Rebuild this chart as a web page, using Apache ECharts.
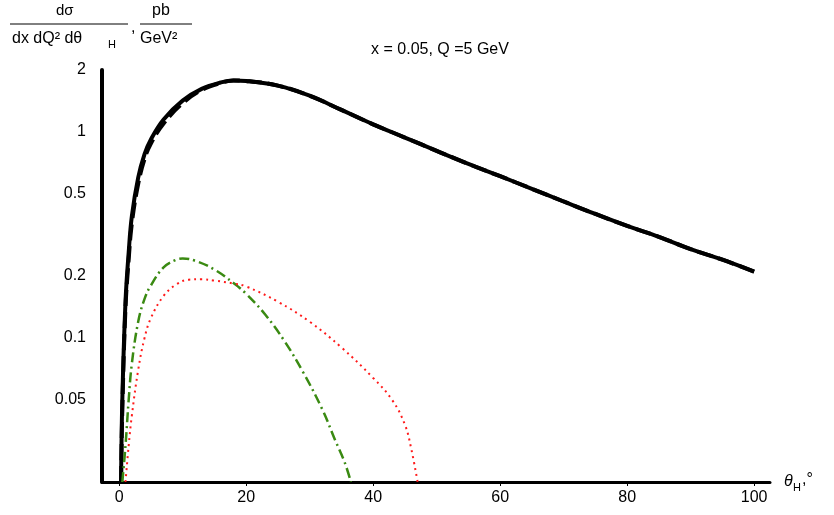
<!DOCTYPE html>
<html><head><meta charset="utf-8">
<script src="https://cdn.jsdelivr.net/npm/echarts@6/dist/echarts.min.js"></script>
<style>html,body{margin:0;background:#fff}#c{width:834px;height:515px}</style>
</head><body><div id="c"></div>
<script>
const yTicks = [0.05, 0.1, 0.2, 0.5, 1, 2];
const xTicks = [0, 20, 40, 60, 80, 100];

const totalTheta = [0.3, 0.5, 1, 1.5, 2, 3, 4, 5, 7, 10, 13, 16, 18, 20, 25, 30, 35, 40, 45, 50, 55, 60, 65, 70, 75, 80, 85, 90, 95, 100];
const totalSolid = [0.02, 0.05, 0.15, 0.26, 0.39, 0.6, 0.78, 0.92, 1.15, 1.42, 1.62, 1.74, 1.78, 1.77, 1.68, 1.5, 1.28, 1.09, 0.94, 0.81, 0.7, 0.61, 0.53, 0.46, 0.4, 0.35, 0.31, 0.27, 0.24, 0.21];
const totalDashed = [0.02, 0.045, 0.14, 0.24, 0.36, 0.56, 0.74, 0.88, 1.1, 1.38, 1.6, 1.73, 1.78, 1.77, 1.68, 1.5, 1.28, 1.09, 0.94, 0.81, 0.7, 0.61, 0.53, 0.46, 0.4, 0.35, 0.31, 0.27, 0.24, 0.21];

const greenTheta = [0.5, 1, 1.5, 2, 3, 4, 5, 7, 9, 10, 12, 15, 18, 20, 23, 26, 29, 32, 34, 35.5, 36.5];
const greenVals = [0.02, 0.03, 0.05, 0.075, 0.12, 0.155, 0.18, 0.22, 0.24, 0.243, 0.237, 0.215, 0.185, 0.164, 0.13, 0.097, 0.068, 0.045, 0.032, 0.025, 0.02];

const redTheta = [1, 1.5, 2, 3, 4, 5, 7, 9, 11, 13, 15, 18, 20, 25, 30, 35, 40, 43, 45, 46, 47];
const redVals = [0.02, 0.03, 0.042, 0.07, 0.1, 0.125, 0.16, 0.182, 0.192, 0.193, 0.19, 0.184, 0.178, 0.15, 0.12, 0.09, 0.064, 0.05, 0.038, 0.029, 0.02];

const zip = (xs, ys) => xs.map((x, i) => [x, ys[i]]);
const chart = echarts.init(document.getElementById('c'));
const font = 'Liberation Sans, Arial, sans-serif';
chart.setOption({
  animation: false,
  grid: {left: 102, right: 64, top: 70, bottom: 33},
  title: {text: 'x = 0.05, Q =5 GeV', left: 435, top: 37, textAlign: 'center',
    textStyle: {fontSize: 16, fontWeight: 'normal', color: '#000', fontFamily: font}},
  xAxis: {type: 'value', min: -2.7, max: 102.5, splitLine: {show: false},
    axisLine: {onZero: false, lineStyle: {color: '#000', width: 3}},
    axisTick: {customValues: xTicks, length: 4, lineStyle: {color: '#000'}},
    axisLabel: {customValues: xTicks, color: '#000', fontSize: 16, fontFamily: font}},
  yAxis: {type: 'log', min: 0.02, max: 2, splitLine: {show: false},
    axisLine: {show: true, onZero: false, lineStyle: {color: '#000', width: 4}},
    axisTick: {show: false},
    axisLabel: {customValues: yTicks, color: '#000', fontSize: 16, fontFamily: font, margin: 16}},
  graphic: [
    {type: 'text', left: 56, top: 3, style: {text: 'dσ', font: '15px ' + font, fill: '#000'}},
    {type: 'line', shape: {x1: 10, y1: 24, x2: 128, y2: 24}, style: {stroke: '#000', lineWidth: 1}},
    {type: 'text', left: 12, top: 31, style: {text: 'dx dQ² dθ', font: '16px ' + font, fill: '#000'}},
    {type: 'text', left: 108, top: 39, style: {text: 'H', font: '11px ' + font, fill: '#000'}},
    {type: 'text', left: 131, top: 20, style: {text: ',', font: '16px ' + font, fill: '#000'}},
    {type: 'text', left: 152, top: 3, style: {text: 'pb', font: '16px ' + font, fill: '#000'}},
    {type: 'line', shape: {x1: 140, y1: 24, x2: 192, y2: 24}, style: {stroke: '#000', lineWidth: 1}},
    {type: 'text', left: 140, top: 31, style: {text: 'GeV²', font: '16px ' + font, fill: '#000'}},
    {type: 'text', left: 784, top: 474, style: {text: 'θ', font: 'italic 16px ' + font, fill: '#000'}},
    {type: 'text', left: 793, top: 482, style: {text: 'H', font: '11px ' + font, fill: '#000'}},
    {type: 'text', left: 802, top: 472, style: {text: ',°', font: '16px ' + font, fill: '#000'}}
  ],
  series: [
    {type: 'line', data: zip(totalTheta, totalSolid), smooth: 0.4, symbol: 'none',
      lineStyle: {color: '#000', width: 4}},
    {type: 'line', data: zip(totalTheta, totalDashed), smooth: 0.4, symbol: 'none',
      lineStyle: {color: '#000', width: 4, type: [16, 6]}},
    {type: 'line', data: zip(greenTheta, greenVals), smooth: 0.4, symbol: 'none',
      lineStyle: {color: '#3a8a12', width: 2.5, type: [10, 4, 2, 4]}},
    {type: 'line', data: zip(redTheta, redVals), smooth: 0.4, symbol: 'none',
      lineStyle: {color: '#ff1a1a', width: 2, type: [2, 4]}}
  ]
});
</script></body></html>
